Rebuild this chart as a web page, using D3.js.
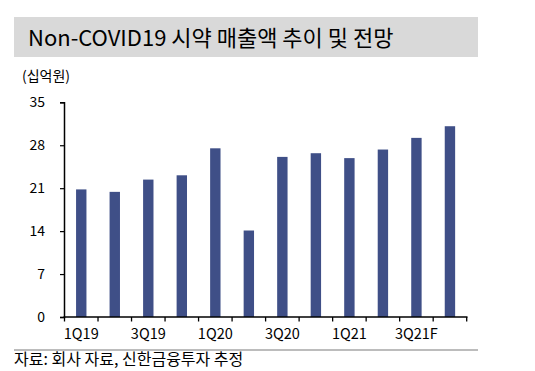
<!DOCTYPE html>
<html><head><meta charset="utf-8">
<script src="https://cdn.jsdelivr.net/npm/d3@7"></script>
<style>body{margin:0;background:#fff;}svg{display:block;}</style>
</head><body>
<script>
const categories = ["1Q19","2Q19","3Q19","4Q19","1Q20","2Q20","3Q20","4Q20","1Q21","2Q21","3Q21F","4Q21F"];
const values = [20.8, 20.4, 22.4, 23.1, 27.5, 14.1, 26.1, 26.7, 25.9, 27.3, 29.2, 31.1];
const yTicks = [0, 7, 14, 21, 28, 35];
const xLabels = ["1Q19","3Q19","1Q20","3Q20","1Q21","3Q21F"];
const title = "Non-COVID19 시약 매출액 추이 및 전망";
const unit = "(십억원)";
const source = "자료: 회사 자료, 신한금융투자 추정";

const W = 535, H = 371;
const font = "'Noto Sans CJK KR', 'Noto Sans', sans-serif";
const svg = d3.select("body").append("svg").attr("width", W).attr("height", H);

svg.append("rect").attr("x", 14).attr("y", 17).attr("width", 464).attr("height", 40).attr("fill", "#d9d9d9");
svg.append("text").attr("x", 28).attr("y", 46).attr("font-family", font).attr("font-size", 22)
  .attr("fill", "#000").text(title);

svg.append("text").attr("x", 22).attr("y", 81).attr("font-family", font).attr("font-size", 14)
  .attr("fill", "#000").text(unit);

const x = d3.scaleBand().domain(categories).range([64.5, 466.7]).paddingInner(0.69).paddingOuter(0.345);
const xb = d3.scaleBand().domain(categories).range([64.5, 466.7]);
const y = d3.scaleLinear().domain([0, 35]).range([317, 102.3]);

svg.append("g").selectAll("rect").data(values).join("rect")
  .attr("x", (d, i) => x(categories[i])).attr("width", x.bandwidth())
  .attr("y", d => y(d)).attr("height", d => y(0) - y(d)).attr("fill", "#3f4f87");

// y axis
const ya = svg.append("g").attr("transform", "translate(64,0)")
  .call(d3.axisLeft(y).tickValues(yTicks).tickSize(4).tickPadding(15));
ya.select(".domain").attr("stroke", "#000").attr("stroke-width", 1.5);
ya.selectAll(".tick line").attr("stroke", "#000").attr("stroke-width", 1.2);
ya.selectAll(".tick text").attr("font-family", font).attr("font-size", 14).attr("fill", "#000");

// x axis
const xa = svg.append("g").attr("transform", `translate(0,${y(0)})`)
  .call(d3.axisBottom(xb).tickSize(0).tickFormat(d => xLabels.includes(d) ? d : "").tickPadding(12));
xa.select(".domain").remove();
xa.selectAll(".tick text").attr("font-family", font).attr("font-size", 14.5).attr("fill", "#000");
svg.append("line").attr("x1", 63.5).attr("x2", 467.5).attr("y1", y(0)).attr("y2", y(0))
  .attr("stroke", "#000").attr("stroke-width", 1.5);
const bounds = categories.map(c => xb(c)).concat([xb.range()[1]]);
svg.append("g").selectAll("line").data(bounds).join("line")
  .attr("x1", d => d).attr("x2", d => d).attr("y1", y(0)).attr("y2", y(0) + 4.5)
  .attr("stroke", "#000").attr("stroke-width", 1.3);

svg.append("line").attr("x1", 14).attr("x2", 478).attr("y1", 350).attr("y2", 350)
  .attr("stroke", "#a6a6a6").attr("stroke-width", 1.5);
svg.append("text").attr("x", 14).attr("y", 365).attr("font-family", font).attr("font-size", 16)
  .attr("fill", "#000").text(source);
</script>
</body></html>
